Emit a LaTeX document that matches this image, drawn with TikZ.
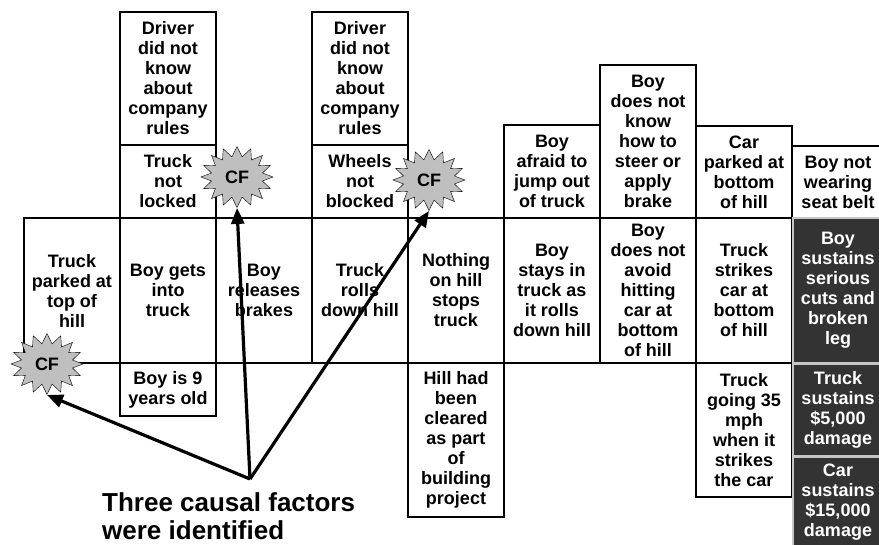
\documentclass[tikz,border=0pt]{standalone}
\usepackage{fontspec}
\setmainfont{Liberation Sans}
\usetikzlibrary{shapes.symbols,arrows.meta,positioning}

\begin{document}
\begin{tikzpicture}[
    event/.style={rectangle, draw, line width=2.5pt, outer sep=0pt, inner sep=1pt, minimum width=96pt, minimum height=145pt, align=center, font=\bfseries\fontsize{18pt}{20pt}\selectfont},
    condition/.style={event, minimum height=#1},
    result/.style={rectangle, draw=gray!45, line width=1.2pt, fill=black!80, text=white, outer sep=0pt, minimum width=90pt, align=center, font=\bfseries\fontsize{18pt}{20pt}\selectfont},
    cf/.style={starburst, starburst points=16, random starburst=0, starburst point height=10pt, draw, thin, fill=gray!50, minimum width=72pt, minimum height=61pt, inner sep=0pt, font=\bfseries\fontsize{18pt}{20pt}\selectfont},
    arrow/.style={-{Triangle[length=16pt,width=13pt]}, line width=3.2pt}]

    \useasboundingbox (0,0) rectangle (879pt,-545pt);

    \node[event] (parked) at (72pt,-290.5pt) {Truck\\parked at\\top of\\hill};
    \node[event, right=0pt of parked] (getsin) {Boy gets\\into\\truck};
    \node[event, right=0pt of getsin] (releases) {Boy\\releases\\brakes};
    \node[event, right=0pt of releases] (rolls) {Truck\\rolls\\down hill};
    \node[event, right=0pt of rolls] (nothing) {Nothing\\on hill\\stops\\truck};
    \node[event, right=0pt of nothing] (stays) {Boy\\stays in\\truck as\\it rolls\\down hill};
    \node[event, right=0pt of stays] (avoid) {Boy\\does not\\avoid\\hitting\\car at\\bottom\\of hill};
    \node[event, right=0pt of avoid] (strikes) {Truck\\strikes\\car at\\bottom\\of hill};

    \node[condition=73pt, above=0pt of getsin] (notlocked) {Truck\\not\\locked};
    \node[condition=133pt, above=0pt of notlocked] (rules1) {Driver\\did not\\know\\about\\company\\rules};
    \node[condition=73pt, above=0pt of rolls] (notblocked) {Wheels\\not\\blocked};
    \node[condition=133pt, above=0pt of notblocked] (rules2) {Driver\\did not\\know\\about\\company\\rules};
    \node[condition=93pt, above=0pt of stays] (afraid) {Boy\\afraid to\\jump out\\of truck};
    \node[condition=153pt, above=0pt of avoid] (steer) {Boy\\does not\\know\\how to\\steer or\\apply\\brake};
    \node[condition=92pt, above=0pt of strikes] (carparked) {Car\\parked at\\bottom\\of hill};
    \node[condition=72pt, minimum width=92pt, anchor=south west] (seatbelt) at (strikes.north east) {Boy not\\wearing\\seat belt};

    \node[condition=53pt, below=0pt of getsin] (nineyears) {Boy is 9\\years old};
    \node[condition=154pt, below=0pt of nothing] (cleared) {Hill had\\been\\cleared\\as part\\of\\building\\project};
    \node[condition=134pt, below=0pt of strikes] (speed) {Truck\\going 35\\mph\\when it\\strikes\\the car};

    \node[result, minimum height=145pt, anchor=north west, xshift=1pt] (injury) at (strikes.north east) {Boy\\sustains\\serious\\cuts and\\broken\\leg};
    \node[result, minimum height=91pt, below=1.5pt of injury] (truckdamage) {Truck\\sustains\\\$5,000\\damage};
    \node[result, minimum height=91pt, below=1.5pt of truckdamage] (cardamage) {Car\\sustains\\\$15,000\\damage};

    \node[cf, xshift=21pt, yshift=4.5pt] (cf1) at (notlocked.east) {CF};
    \node[cf, xshift=21pt, yshift=1.5pt] (cf2) at (notblocked.east) {CF};
    \node[cf, xshift=23pt, yshift=-1pt] (cf3) at (parked.south west) {CF};

    \coordinate (apex) at (250pt,-479pt);
    \draw[arrow] (apex) -- (cf1.south);
    \draw[arrow] (apex) -- (cf2.south);
    \draw[arrow] (apex) -- (cf3.south);

    \node[anchor=north west, inner sep=0pt, align=left, font=\bfseries\fontsize{26pt}{28pt}\selectfont] (caption) at (102pt,-492pt) {Three causal factors\\were identified};

\end{tikzpicture}
\end{document}
